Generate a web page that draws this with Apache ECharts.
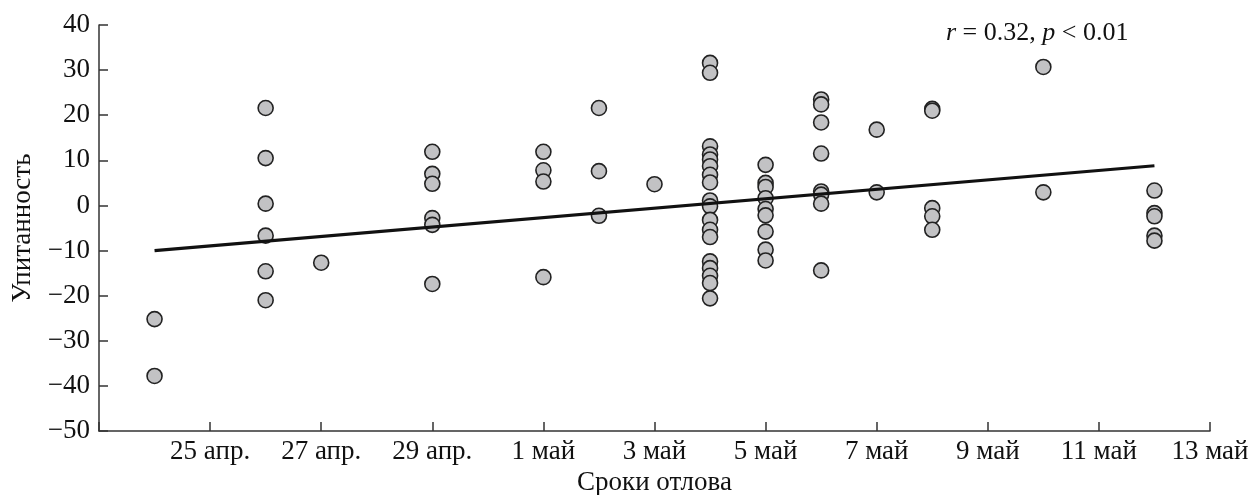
<!DOCTYPE html>
<html>
<head>
<meta charset="utf-8">
<script src="https://cdn.jsdelivr.net/npm/echarts@6/dist/echarts.min.js"></script>
<style>
html,body{margin:0;padding:0;background:#fff;}
#chart{width:1252px;height:495px;}
</style>
</head>
<body>
<div id="chart"></div>
<script>
// x = days since 23 Apr (0 = 23 апр., 2 = 25 апр., ..., 20 = 13 май)
var tickLabels = ['', '25 апр.', '27 апр.', '29 апр.', '1 май', '3 май', '5 май', '7 май', '9 май', '11 май', '13 май'];
var captureDay = [
  1, 1,
  3, 3, 3, 3, 3, 3,
  4,
  6, 6, 6, 6, 6, 6,
  8, 8, 8, 8,
  9, 9, 9,
  10,
  11, 11, 11, 11, 11, 11, 11, 11, 11, 11, 11, 11, 11, 11, 11, 11, 11, 11,
  12, 12, 12, 12, 12, 12, 12, 12, 12,
  13, 13, 13, 13, 13, 13, 13, 13,
  14, 14,
  15, 15, 15, 15, 15,
  17, 17,
  19, 19, 19, 19, 19
];
var condition = [
  -25.2, -37.8,
  21.6, 10.5, 0.4, -6.7, -14.6, -21.0,
  -12.7,
  11.9, 7.0, 4.8, -2.8, -4.3, -17.4,
  11.9, 7.8, 5.3, -15.9,
  21.6, 7.6, -2.3,
  4.7,
  31.6, 29.4, 13.1, 11.3, 10.2, 8.7, 6.8, 5.1, 1.1, -0.2, -3.2, -5.4, -7.0, -12.4, -13.9, -15.6, -17.2, -20.6,
  9.0, 5.0, 4.1, 1.6, -0.8, -2.2, -5.8, -9.8, -12.2,
  23.5, 22.4, 18.4, 11.5, 3.1, 2.4, 0.4, -14.4,
  16.8, 2.9,
  21.4, 21.0, -0.6, -2.4, -5.4,
  30.7, 2.9,
  3.3, -1.7, -2.4, -6.7, -7.8
];
var trendDays = [1, 19];
var trendValues = [-10.0, 8.8];

var points = captureDay.map(function (d, i) { return [d, condition[i]]; });
var trend = trendDays.map(function (d, i) { return [d, trendValues[i]]; });

var font = '"Liberation Serif", "Times New Roman", serif';
var fs = 27;
var chart = echarts.init(document.getElementById('chart'), null, {renderer: 'canvas'});
chart.setOption({
  animation: false,
  backgroundColor: '#fff',
  textStyle: {fontFamily: font},
  title: {
    text: '{i|r} = 0.32, {i|p} < 0.01',
    left: 941,
    top: 15,
    textStyle: {
      fontFamily: font, fontSize: 26, fontWeight: 'normal', color: '#111',
      rich: {i: {fontStyle: 'italic', fontFamily: font, fontSize: 26, color: '#111'}}
    }
  },
  grid: {left: 99, right: 42, top: 25, bottom: 64, containLabel: false, outerBoundsMode: 'none'},
  xAxis: {
    type: 'value',
    min: 0, max: 20, interval: 2,
    name: 'Сроки отлова',
    nameLocation: 'middle',
    nameGap: 36,
    nameTextStyle: {fontFamily: font, fontSize: fs, color: '#111'},
    axisLine: {show: true, onZero: false, lineStyle: {color: '#333', width: 1.5}},
    axisTick: {show: true, inside: true, length: 9, lineStyle: {color: '#333', width: 1.5}},
    axisLabel: {
      fontFamily: font, fontSize: fs, color: '#111', margin: 7,
      formatter: function (v) { return tickLabels[Math.round(v / 2)] || ''; }
    },
    splitLine: {show: false}
  },
  yAxis: {
    type: 'value',
    min: -50, max: 40, interval: 10,
    name: 'Упитанность',
    nameLocation: 'middle',
    nameGap: 63,
    nameTextStyle: {fontFamily: font, fontSize: fs, color: '#111'},
    axisLine: {show: true, onZero: false, lineStyle: {color: '#333', width: 1.5}},
    axisTick: {show: true, inside: true, length: 9, lineStyle: {color: '#333', width: 1.5}},
    axisLabel: {
      fontFamily: font, fontSize: fs, color: '#111', margin: 9,
      formatter: function (v) { return v < 0 ? '\u2212' + Math.abs(v) : String(v); }
    },
    splitLine: {show: false}
  },
  series: [
    {
      type: 'scatter',
      data: points,
      symbol: 'circle',
      symbolSize: 15,
      itemStyle: {color: '#c2c2c4', borderColor: '#222', borderWidth: 1.6, opacity: 1}
    },
    {
      type: 'line',
      data: trend,
      symbol: 'none',
      lineStyle: {color: '#111', width: 3.2},
      z: 5
    }
  ]
});
</script>
</body>
</html>
